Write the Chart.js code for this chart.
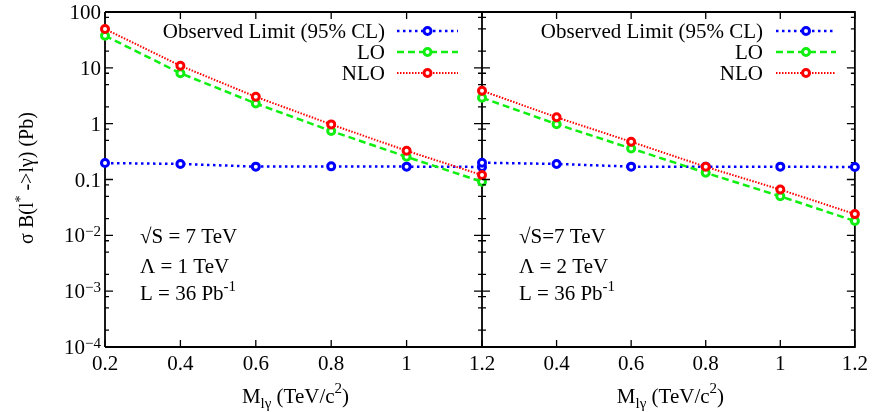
<!DOCTYPE html>
<html><head><meta charset="utf-8">
<script src="https://cdn.jsdelivr.net/npm/chart.js@4.4.0/dist/chart.umd.min.js"></script>
<style>
html,body{margin:0;padding:0;background:#fff;}
#wrap{position:relative;width:873px;height:412px;background:#fff;}
canvas{position:absolute;left:0;top:0;}
</style></head><body>
<div id="wrap"><canvas id="c1" width="873" height="412"></canvas><canvas id="c2" width="873" height="412"></canvas></div>
<script>
// ---------- data ----------
const massValues = [0.2, 0.4, 0.6, 0.8, 1.0, 1.2];
// Panel 1: Lambda = 1 TeV
const observedP1 = [0.197, 0.19, 0.17, 0.172, 0.17, 0.168];
const loP1       = [37.6, 8.0, 2.3, 0.74, 0.255, 0.091];
const nloP1      = [49.6, 10.9, 3.03, 0.97, 0.327, 0.12];
// Panel 2: Lambda = 2 TeV
const observedP2 = [0.2, 0.19, 0.17, 0.17, 0.17, 0.167];
const loP2       = [2.91, 0.98, 0.36, 0.132, 0.05, 0.018];
const nloP2      = [3.89, 1.30, 0.474, 0.169, 0.066, 0.024];

const seriesNames = ['Observed Limit (95% CL)', 'LO', 'NLO'];
const seriesColors = ['#0000ff', '#11ee11', '#ff0000'];
const xTickValues = [0.2, 0.4, 0.6, 0.8, 1.0, 1.2];
const xTickLabelsP1 = ['0.2', '0.4', '0.6', '0.8', '1', '1.2'];
const xTickLabelsP2 = ['', '0.4', '0.6', '0.8', '1', '1.2'];
const yTickValues = [100, 10, 1, 0.1, 0.01, 0.001, 0.0001];
const yTickLabels = ['100', '10', '1', '0.1', '10^{−2}', '10^{−3}', '10^{−4}'];
const yMinorFactors = [2, 5, 8];
const notesP1 = ['√S = 7 TeV', 'Λ = 1 TeV', 'L = 36 Pb^{-1}'];
const notesP2 = ['√S=7 TeV', 'Λ = 2 TeV', 'L = 36 Pb^{-1}'];
const xTitle = 'M_{lγ} (TeV/c^{2})';
const yTitle = 'σ B(l^{*} ->lγ) (Pb)';

// ---------- helpers ----------
const FAM = '"Liberation Serif", "Times New Roman", serif';
function parseRich(s){
  const parts=[]; const re=/([\^_])\{([^}]*)\}/g; let last=0, m;
  while((m=re.exec(s))){
    if(m.index>last) parts.push({t:s.slice(last,m.index),k:''});
    parts.push({t:m[2],k:m[1]==='^'?'sup':'sub'});
    last=re.lastIndex;
  }
  if(last<s.length) parts.push({t:s.slice(last),k:''});
  return parts;
}
function drawRich(ctx, str, x, y, align, size, small, rise, drop){
  const parts=parseRich(str);
  small = small || Math.round(size*0.72);
  rise = rise===undefined ? size*0.4 : rise;
  drop = drop===undefined ? size*0.25 : drop;
  let w=0;
  parts.forEach(p=>{ ctx.font=(p.k?small:size)+'px '+FAM; p.w=ctx.measureText(p.t).width; w+=p.w; });
  let cx = align==='right' ? x-w : align==='center' ? x-w/2 : x;
  ctx.textAlign='left'; ctx.textBaseline='alphabetic';
  parts.forEach(p=>{
    ctx.font=(p.k?small:size)+'px '+FAM;
    const yy = p.k==='sup' ? y-rise : p.k==='sub' ? y+drop : y;
    ctx.fillText(p.t, cx, yy); cx+=p.w;
  });
}
function makeData(obs, lo, nlo){
  const arrs=[obs, lo, nlo];
  const dashes=[[2.5,3.5],[7,4],[1.5,1.5]];
  const widths=[2.5,2.5,2];
  return { datasets: arrs.map((a,i)=>({
    label: seriesNames[i],
    data: massValues.map((x,j)=>({x:x, y:a[j]})),
    borderColor: seriesColors[i],
    borderWidth: widths[i],
    borderDash: dashes[i],
    pointRadius: 3.5,
    pointBorderWidth: 3,
    pointBorderColor: seriesColors[i],
    pointBackgroundColor: '#fff',
    pointStyle: 'circle',
    tension: 0,
    fill: false,
    clip: false,
    order: 3-i
  }))};
}

const decor = {
  id:'decor',
  beforeDatasetsDraw(chart, args, o){
    const {ctx, chartArea:a} = chart; const xs=chart.scales.x, ys=chart.scales.y;
    ctx.save(); ctx.strokeStyle='#000'; ctx.lineWidth=1.8;
    ctx.beginPath();
    if(o.leftEdge){ ctx.moveTo(a.left,a.top); ctx.lineTo(a.left,a.bottom); }
    ctx.moveTo(a.left,a.top); ctx.lineTo(a.right,a.top); ctx.lineTo(a.right,a.bottom); ctx.lineTo(a.left,a.bottom);
    ctx.stroke();
    ctx.lineWidth=1.3; ctx.beginPath();
    xTickValues.forEach(v=>{ const px=xs.getPixelForValue(v);
      ctx.moveTo(px,a.bottom); ctx.lineTo(px,a.bottom-7); ctx.moveTo(px,a.top); ctx.lineTo(px,a.top+7); });
    yTickValues.forEach(v=>{ const py=ys.getPixelForValue(v);
      ctx.moveTo(a.left,py); ctx.lineTo(a.left+8,py); ctx.moveTo(a.right,py); ctx.lineTo(a.right-8,py);
      yMinorFactors.forEach(f=>{ const mv=v*f; if(mv<ys.max){ const pm=ys.getPixelForValue(mv);
        ctx.moveTo(a.left,pm); ctx.lineTo(a.left+4,pm); ctx.moveTo(a.right,pm); ctx.lineTo(a.right-4,pm); }});
    });
    ctx.stroke(); ctx.restore();
  },
  afterDraw(chart, args, o){
    const {ctx, chartArea:a} = chart; const ys=chart.scales.y;
    ctx.save(); ctx.fillStyle='#000';
    if(o.yLabels){
      yTickValues.forEach((v,i)=>{ const py=ys.getPixelForValue(v);
        drawRich(ctx, yTickLabels[i], a.left-4, py+7, 'right', 21, 15, 6); });
      ctx.save(); ctx.translate(33, 178); ctx.rotate(-Math.PI/2);
      drawRich(ctx, yTitle, 0, 0, 'center', 20, 14, 8); ctx.restore();
    }
    drawRich(ctx, xTitle, (a.left+a.right)/2+2, 403, 'center', 21, 15, 10, 5);
    o.notes.forEach((t,i)=>{ drawRich(ctx, t, o.notesX, [243,273,300][i], 'left', 21, 15, 9); });
    chart.data.datasets.forEach((d,i)=>{
      const by = 38 + i*21, cy = by-7;
      ctx.font='21px '+FAM; ctx.textAlign='right'; ctx.textBaseline='alphabetic';
      ctx.fillText(d.label, o.legendRight, by);
      ctx.save(); ctx.strokeStyle=d.borderColor; ctx.lineWidth=d.borderWidth; ctx.setLineDash(d.borderDash);
      ctx.beginPath(); ctx.moveTo(o.legendLine[0],cy); ctx.lineTo(o.legendLine[1],cy); ctx.stroke();
      ctx.setLineDash([]); ctx.lineWidth=3; ctx.fillStyle='#fff';
      const mx=(o.legendLine[0]+o.legendLine[1])/2;
      ctx.beginPath(); ctx.arc(mx,cy,3.5,0,Math.PI*2); ctx.fill(); ctx.stroke(); ctx.restore();
    });
    ctx.restore();
  }
};

function makeChart(id, data, labels, pad, decorOpts){
  return new Chart(document.getElementById(id), {
    type:'line',
    data: data,
    plugins:[decor],
    options:{
      responsive:false, animation:false, devicePixelRatio:1,
      layout:{padding:pad},
      plugins:{ legend:{display:false}, tooltip:{enabled:false}, decor: decorOpts },
      scales:{
        x:{ type:'linear', min:0.2, max:1.2,
            grid:{display:false, drawTicks:false}, border:{display:false},
            afterBuildTicks: s=>{ s.ticks = xTickValues.map(v=>({value:v})); },
            afterFit: s=>{ s.height = 65; },
            ticks:{ color:'#000', font:{family:'Liberation Serif', size:21}, padding:5, maxRotation:0, autoSkip:false,
                    callback:(v,i)=>labels[i] } },
        y:{ type:'logarithmic', min:0.0001, max:100, display:false }
      }
    }
  });
}

makeChart('c1', makeData(observedP1, loP1, nloP1), xTickLabelsP1,
  {left:105, right:391, top:12, bottom:0},
  {leftEdge:true, yLabels:true, notes:notesP1, notesX:140, legendRight:385, legendLine:[397,458]});
makeChart('c2', makeData(observedP2, loP2, nloP2), xTickLabelsP2,
  {left:482, right:13, top:12, bottom:0},
  {leftEdge:false, yLabels:false, notes:notesP2, notesX:519, legendRight:763, legendLine:[776,836]});
</script>
</body></html>
